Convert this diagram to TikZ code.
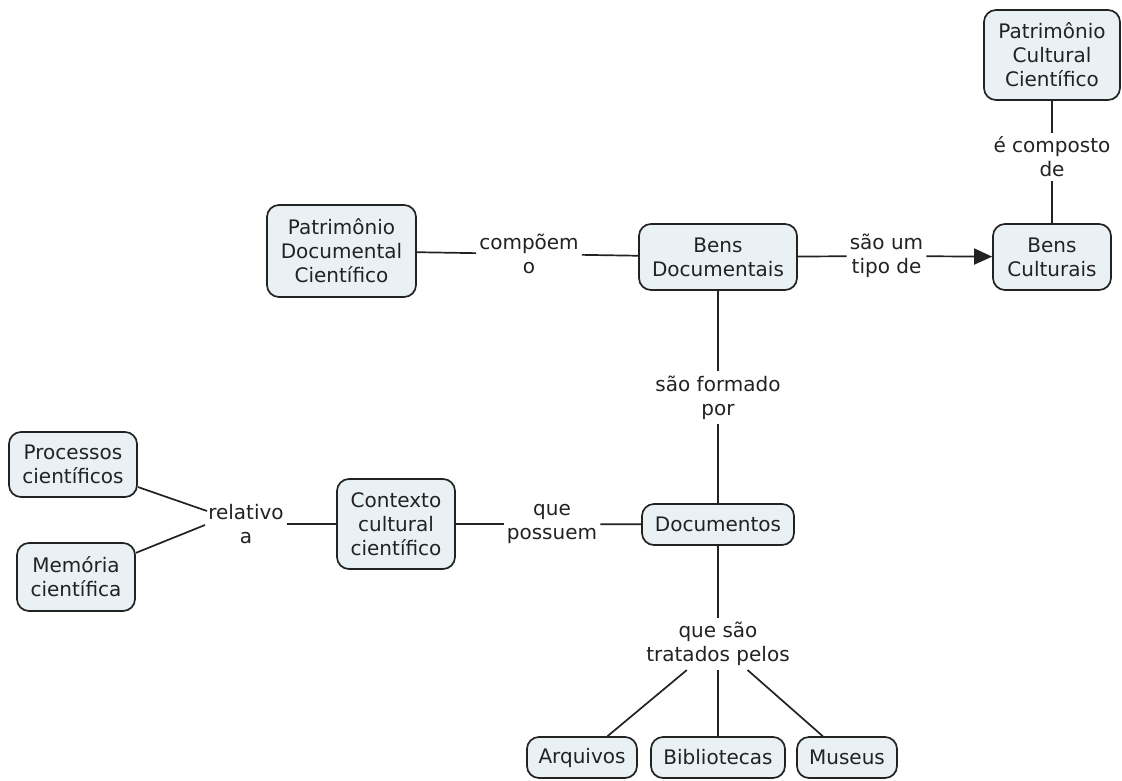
\documentclass[tikz,border=0pt]{standalone}
\usepackage{fontspec}
\setmainfont{DejaVu Sans}
\usetikzlibrary{arrows.meta}

\definecolor{conceptfill}{RGB}{234,241,245}
\definecolor{inkgray}{RGB}{34,34,34}

\begin{document}
\begin{tikzpicture}[
    x=1pt, y=-1pt,
    font=\fontsize{20}{24}\selectfont,
    text=inkgray,
    concept/.style={draw=inkgray, line width=1.7pt, fill=conceptfill,
                    rounded corners=12pt, align=center, inner sep=2pt},
    linkword/.style={align=center, inner xsep=3pt, inner ysep=4pt},
    conn/.style={draw=inkgray, line width=1.7pt},
  ]
  \fill[white] (0,0) rectangle (1122,780);
  \path[use as bounding box] (0,0) rectangle (1122,780);

  % concepts
  \node[concept, minimum width=136pt, minimum height=90pt] (pcc) at (1052,55)
       {Patrimônio\\Cultural\\Científico};
  \node[concept, minimum width=118pt, minimum height=66pt] (bc) at (1052,257)
       {Bens\\Culturais};
  \node[concept, minimum width=158pt, minimum height=66pt] (bd) at (718,257)
       {Bens\\Documentais};
  \node[concept, minimum width=149pt, minimum height=92pt] (pdc) at (341.5,251)
       {Patrimônio\\Documental\\Científico};
  \node[concept, minimum width=152pt, minimum height=41pt] (doc) at (718,524.5)
       {Documentos};
  \node[concept, minimum width=118pt, minimum height=90pt] (ctx) at (396,524)
       {Contexto\\cultural\\científico};
  \node[concept, minimum width=128pt, minimum height=65pt] (proc) at (73,464.5)
       {Processos\\científicos};
  \node[concept, minimum width=118pt, minimum height=68pt] (mem) at (76,577)
       {Memória\\científica};
  \node[concept, minimum width=110pt, minimum height=41pt] (arq) at (582,757.5)
       {Arquivos};
  \node[concept, minimum width=134pt, minimum height=41pt] (bib) at (718,757.5)
       {Bibliotecas};
  \node[concept, minimum width=100pt, minimum height=41pt] (mus) at (847,757.5)
       {Museus};

  % linking phrases
  \node[linkword] (lcomp) at (1052,157) {é composto\\de};
  \node[linkword] (ltipo) at (886.5,256) {são um\\tipo de};
  \node[linkword] (lpoem) at (529,254) {compõem\\o};
  \node[linkword] (lform) at (718,397.5) {são formado\\por};
  \node[linkword] (lposs) at (552,524) {que\\possuem};
  \node[linkword] (lrel) at (246,524) {relativo\\a};
  \node[linkword] (ltrat) at (718,644) {que são\\tratados pelos};

  % end points of the two lines meeting at "relativo a"
  \coordinate (relA) at (207,511);
  \coordinate (relB) at (205,525);

  % connectors
  \draw[conn] (pcc) -- (lcomp);
  \draw[conn] (lcomp) -- (bc);
  \draw[conn] (bd) -- (ltipo);
  \draw[conn, -{Triangle[length=18pt,width=16pt]}] (ltipo) -- (bc);
  \draw[conn] (pdc) -- (lpoem);
  \draw[conn] (lpoem) -- (bd);
  \draw[conn] (bd) -- (lform);
  \draw[conn] (lform) -- (doc);
  \draw[conn] (doc) -- (lposs);
  \draw[conn] (lposs) -- (ctx);
  \draw[conn] (ctx) -- (lrel);
  \draw[conn] (proc) -- (relA);
  \draw[conn] (mem) -- (relB);
  \draw[conn] (doc) -- (ltrat);
  \draw[conn] (ltrat) -- (arq);
  \draw[conn] (ltrat) -- (bib);
  \draw[conn] (ltrat) -- (mus);
\end{tikzpicture}
\end{document}
